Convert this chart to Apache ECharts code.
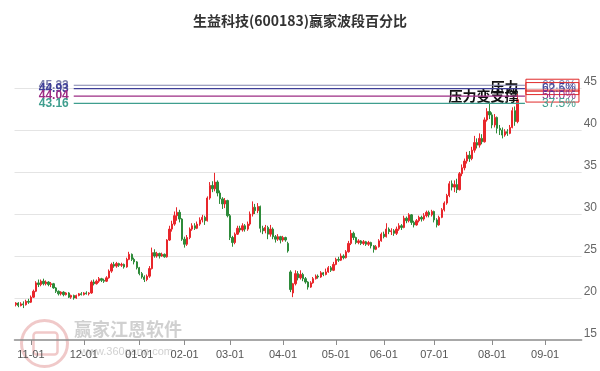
<!DOCTYPE html>
<html>
<head>
<meta charset="utf-8">
<script src="https://cdn.jsdelivr.net/npm/echarts@6/dist/echarts.min.js"></script>
<style>
html,body{margin:0;padding:0;background:#fff;}
#chart{width:600px;height:371px;}
</style>
</head>
<body>
<div id="chart"></div>
<script>
// ---- data ----
const tradeDays = {
  '2024-10': [24,25,28,29,30,31],
  '2024-11': [1,4,5,6,7,8,11,12,13,14,15,18,19,20,21,22,25,26,27,28,29],
  '2024-12': [2,3,4,5,6,9,10,11,12,13,16,17,18,19,20,23,24,25,26,27,30,31],
  '2025-01': [2,3,6,7,8,9,10,13,14,15,16,17,20,21,22,23,24,27],
  '2025-02': [5,6,7,10,11,12,13,14,17,18,19,20,21,24,25,26,27,28],
  '2025-03': [3,4,5,6,7,10,11,12,13,14,17,18,19,20,21,24,25,26,27,28,31],
  '2025-04': [1,2,3,7,8,9,10,11,14,15,16,17,18,21,22,23,24,25,28,29,30],
  '2025-05': [6,7,8,9,12,13,14,15,16,19,20,21,22,23,26,27,28,29,30],
  '2025-06': [3,4,5,6,9,10,11,12,13,16,17,18,19,20,23,24,25,26,27,30],
  '2025-07': [1,2,3,4,7,8,9,10,11,14,15,16,17,18,21,22,23,24,25,28,29,30,31],
  '2025-08': [1,4,5,6,7,8,11,12,13,14,15,18,19,20,21,22,25,26,27,28,29],
  '2025-09': [1,2,3,4,5,8,9,10,11,12,15,16,17,18,19]
};
const monthStarts = ['2024-11-01','2024-12-02','2025-01-02','2025-02-05','2025-03-03','2025-04-01','2025-05-06','2025-06-03','2025-07-01','2025-08-01','2025-09-01'];
const tickLabels  = ['11-01','12-01','01-01','02-01','03-01','04-01','05-01','06-01','07-01','08-01','09-01'];

// [open, close, low, high] per trading day from 2024-10-24
const ohlc = [
[19.2,19.4,19.0,19.5],[19.4,19.1,18.9,19.5],[19.1,19.3,19.0,19.5],[19.3,19.2,18.8,19.6],[19.2,19.6,19.1,19.8],[19.6,19.5,19.3,19.9],
[19.5,20.1,19.4,20.3],[20.1,20.8,20.0,21.0],[20.8,21.8,20.7,22.0],[21.8,21.6,21.3,22.2],[21.6,22.0,21.4,22.2],[22.0,21.7,21.5,22.3],
[21.7,21.9,21.5,22.1],[21.9,21.6,21.4,22.0],[21.6,21.7,21.3,21.9],[21.7,21.2,21.1,21.8],[21.2,20.8,20.6,21.3],[20.8,20.5,20.3,20.9],
[20.5,20.7,20.3,20.8],[20.7,20.4,20.2,20.8],[20.4,20.6,20.3,20.7],[20.6,20.1,20.0,20.7],[20.1,20.3,19.9,20.4],[20.3,20.0,19.8,20.4],
[20.0,20.3,19.9,20.4],[20.3,20.5,20.2,20.6],[20.5,20.4,20.3,20.7],
[20.4,20.6,20.3,20.7],[20.6,20.5,20.4,20.8],[20.5,20.6,20.3,20.7],[20.6,21.9,20.5,22.1],[21.9,21.7,21.5,22.2],[21.7,22.0,21.6,22.2],
[22.0,22.3,21.8,22.5],[22.3,22.1,21.9,22.4],[22.1,22.0,21.8,22.3],[22.0,22.4,21.9,22.6],[22.4,23.2,22.3,23.4],[23.2,24.0,23.0,24.2],
[24.0,23.8,23.6,24.3],[23.8,24.1,23.6,24.3],[24.1,23.9,23.7,24.2],[23.9,24.0,23.7,24.2],[24.0,23.7,23.5,24.1],[23.7,24.6,23.6,24.8],
[24.6,25.2,24.5,25.5],[25.2,24.6,24.4,25.3],[24.6,24.3,24.0,24.8],[24.3,23.6,23.4,24.4],
[23.6,22.9,22.7,23.7],[22.9,22.5,22.3,23.1],[22.5,22.2,21.9,22.7],[22.2,22.6,22.0,22.8],[22.6,23.5,22.4,23.8],[23.5,25.4,23.4,26.0],
[25.4,25.0,24.8,25.8],[25.0,25.3,24.8,25.5],[25.3,25.0,24.7,25.4],[25.0,25.2,24.9,25.4],[25.2,24.9,24.8,25.3],[24.9,26.9,24.8,27.0],
[26.9,28.2,26.8,28.6],[28.2,28.8,27.9,29.2],[28.8,29.8,28.6,30.3],[29.8,30.2,29.2,30.8],[30.2,29.4,29.0,30.5],[29.4,27.0,26.8,29.5],
[27.0,26.4,26.0,27.3],[26.4,27.2,26.2,27.5],[27.2,28.2,27.0,28.4],[28.2,28.6,28.0,28.9],[28.6,28.3,28.1,28.9],[28.3,28.8,28.2,29.1],
[28.8,29.3,28.6,29.6],[29.3,29.6,29.0,29.9],[29.6,29.2,28.7,29.8],[29.2,31.9,29.1,32.1],[31.9,33.4,31.7,33.8],[33.4,33.0,32.6,33.9],
[33.0,33.8,32.7,34.9],[33.8,32.5,32.1,34.0],[32.5,31.8,31.2,32.8],[31.8,31.2,30.6,32.0],[31.2,31.6,30.7,31.9],[31.6,29.8,29.6,31.7],
[29.8,27.2,26.9,30.0],[27.2,26.6,26.1,27.4],[26.6,27.6,26.4,27.8],[27.6,28.3,27.5,28.6],[28.3,28.1,27.8,28.6],[28.1,28.6,27.9,28.9],
[28.6,28.2,27.9,28.8],[28.2,28.8,28.0,29.1],[28.8,30.0,28.6,30.3],[30.0,30.8,29.7,31.5],[30.8,30.4,30.0,31.2],[30.4,30.9,30.1,31.3],
[30.9,28.3,27.8,31.0],[28.3,28.0,27.6,28.6],[28.0,28.4,27.7,28.7],[28.4,27.6,27.0,28.6],[27.6,28.2,27.3,28.7],[28.2,27.3,27.0,28.4],
[27.3,27.0,26.6,27.5],[27.0,27.3,26.8,27.6],[27.3,26.9,26.5,27.4],
[26.9,27.2,26.7,27.4],[27.2,26.9,26.7,27.3],[26.5,25.6,25.4,26.7],[23.1,21.0,20.7,23.3],[20.6,21.7,20.1,21.8],[21.7,22.9,21.5,23.3],
[22.9,22.4,22.1,23.2],[22.4,22.8,22.2,23.3],[22.8,22.3,22.0,23.0],[22.3,21.9,21.7,22.5],[21.9,21.3,21.0,22.0],[21.3,21.8,21.2,22.0],
[21.8,22.3,21.7,22.5],[22.3,22.6,22.2,22.8],[22.6,22.5,22.3,22.8],[22.5,23.0,22.4,23.2],[23.0,22.8,22.6,23.1],[22.8,23.1,22.7,23.5],
[23.1,23.6,23.0,23.8],[23.6,23.3,23.1,23.8],[23.3,24.0,23.2,24.3],
[24.0,24.6,23.9,24.8],[24.6,24.5,24.3,24.9],[24.5,25.0,24.4,25.3],[25.0,24.8,24.6,25.2],[24.8,25.5,24.7,25.7],[25.5,26.5,25.4,26.8],
[26.5,27.7,26.3,28.1],[27.7,27.2,26.9,27.9],[27.2,26.6,26.4,27.3],[26.6,26.8,26.4,27.0],[26.8,26.5,26.3,26.9],[26.5,26.7,26.3,26.9],
[26.7,26.4,26.2,26.8],[26.4,26.6,26.2,26.8],[26.6,26.2,25.9,26.7],[26.2,25.8,25.4,26.3],[25.8,26.1,25.7,26.3],[26.1,26.8,26.0,27.0],
[26.8,27.6,26.7,27.8],
[27.6,27.3,27.1,27.9],[27.3,28.2,27.2,28.9],[28.2,27.9,27.6,28.4],[27.9,28.0,27.5,28.3],[28.0,27.7,27.4,28.2],[27.7,28.2,27.5,28.5],
[28.2,28.6,28.0,28.9],[28.6,28.4,28.1,28.8],[28.4,29.5,28.3,29.8],[29.5,29.2,28.9,29.7],[29.2,29.9,29.0,30.1],[29.9,29.0,28.7,30.0],
[29.0,28.7,28.4,29.2],[28.7,29.2,28.6,29.4],[29.2,29.6,29.0,29.8],[29.6,29.4,29.1,29.8],[29.4,29.8,29.2,30.1],[29.8,30.2,29.6,30.4],
[30.2,29.9,29.6,30.4],[29.9,30.3,29.7,30.5],
[30.3,29.3,29.0,30.4],[29.3,28.7,28.4,29.5],[28.7,29.6,28.6,29.8],[29.6,30.5,29.5,30.7],[30.5,31.3,30.3,31.5],[31.3,32.2,31.1,32.4],
[32.2,33.6,32.0,33.9],[33.6,33.2,32.8,34.0],[33.2,33.5,32.6,34.0],[33.5,32.9,32.5,34.2],[32.9,34.8,32.8,35.0],[34.8,35.5,34.5,35.9],
[35.5,36.3,35.2,36.6],[36.3,37.0,36.0,37.4],[37.0,36.6,36.2,37.5],[36.6,37.6,36.4,38.0],[37.6,38.5,37.3,39.3],[38.5,38.2,37.8,39.0],
[38.2,39.0,37.9,39.6],[39.0,38.6,38.3,39.5],[38.6,41.2,38.5,41.5],[41.2,42.2,41.0,42.6],[42.2,41.8,41.3,43.3],
[41.8,40.6,40.2,42.1],[40.6,41.5,40.3,41.9],[41.5,40.2,39.6,41.6],[40.2,40.0,39.4,40.6],[40.0,39.4,39.0,40.3],[39.4,39.8,39.2,40.1],
[39.8,39.6,39.3,40.1],[39.6,40.3,39.5,40.6],[40.3,42.3,40.2,42.7],[42.3,41.0,40.5,42.8],[41.0,43.6,40.8,44.3]
];

// wave percentage levels
const levels      = [45.33, 44.93, 44.04, 43.16];
const levelPct    = ['68.2%', '62.5%', '50.0%', '37.5%'];
const levelNotes  = ['', '压力', '压力变支撑', ''];
const levelColors = ['#7f82ad', '#3f3f98', '#9c2c84', '#3f9e8e'];
const levelStart  = '2024-11-26';
const levelEnd    = '2025-08-20';
const yTicks      = [15, 20, 25, 30, 35, 40, 45];

// ---- build ----
const categories = [];
Object.keys(tradeDays).forEach(m => {
  tradeDays[m].forEach(d => categories.push(m + '-' + String(d).padStart(2, '0')));
});

const chart = echarts.init(document.getElementById('chart'), null, {renderer: 'canvas'});
const isMonthStart = (i, v) => monthStarts.indexOf(v !== undefined ? v : categories[i]) >= 0;
const hidden = {color: 'rgba(0,0,0,0)', borderColor: 'rgba(0,0,0,0)'};

const levelSeries = levels.map((v, k) => ({
  type: 'line',
  silent: true,
  symbol: 'circle',
  symbolSize: 1,
  showSymbol: true,
  itemStyle: hidden,
  z: 5,
  lineStyle: {color: levelColors[k], width: 1.2},
  data: [
    {value: [levelStart, v], label: {show: true, position: 'left', distance: 4,
      formatter: v.toFixed(2), color: levelColors[k], fontSize: 12, fontWeight: 'bold',
      fontFamily: 'Liberation Sans, Arial, sans-serif'}},
    {value: [levelEnd, v], label: {show: true, position: 'right', distance: 0,
      formatter: levelPct[k], color: levelColors[k], fontSize: 12,
      fontFamily: 'Liberation Sans, Arial, sans-serif',
      borderColor: k < 3 ? '#e02a2a' : 'transparent', borderWidth: 1, padding: [0, 3, 0, 16]}}
  ],
  markPoint: levelNotes[k] ? {
    symbol: 'circle',
    symbolSize: 1,
    itemStyle: hidden,
    silent: true,
    data: [{coord: [levelEnd, v], label: {show: true, position: 'left', distance: 5,
      formatter: levelNotes[k], color: '#111', fontSize: 14, fontWeight: 'bold',
      fontFamily: 'Noto Sans CJK SC, sans-serif', offset: [0, k === 1 ? -2 : 0]}}]
  } : undefined
}));

chart.setOption({
  animation: false,
  backgroundColor: '#fff',
  title: {
    text: '生益科技(600183)赢家波段百分比',
    left: 'center', top: 9,
    textStyle: {fontSize: 14, fontWeight: 'bold', color: '#333', fontFamily: 'Noto Sans CJK SC, sans-serif'}
  },
  grid: {left: 14.5, right: 15.4, top: 62.8, bottom: 31},
  xAxis: {
    type: 'category',
    data: categories,
    boundaryGap: true,
    axisLine: {show: true, lineStyle: {color: '#8c8c8c', width: 1.5}},
    axisTick: {show: true, alignWithLabel: true, interval: isMonthStart, length: 5, lineStyle: {color: '#8c8c8c'}},
    axisLabel: {
      interval: isMonthStart,
      formatter: v => tickLabels[monthStarts.indexOf(v)],
      color: '#555', fontSize: 11, margin: 9,
      fontFamily: 'Liberation Sans, Arial, sans-serif'
    },
    splitLine: {show: false}
  },
  yAxis: {
    type: 'value',
    position: 'right',
    min: 15, max: 48, interval: 5,
    axisLine: {show: false},
    axisTick: {show: false},
    axisLabel: {
      showMaxLabel: false,
      formatter: v => yTicks.indexOf(v) >= 0 ? String(v) : '',
      color: '#666', fontSize: 12, margin: 2, verticalAlign: 'bottom',
      fontFamily: 'Liberation Sans, Arial, sans-serif'
    },
    splitLine: {show: true, showMinLine: false, showMaxLine: false, lineStyle: {color: '#e4e4e4', width: 1}}
  },
  series: [
    {
      type: 'candlestick',
      data: ohlc,
      barWidth: '72%',
      z: 3,
      itemStyle: {color: '#e8262b', color0: '#2e8b3a', borderColor: '#e8262b', borderColor0: '#2e8b3a', borderWidth: 1}
    }
  ].concat(levelSeries),
  graphic: [
    {type: 'circle', left: 19, top: 318, shape: {r: 23}, style: {fill: 'none', stroke: 'rgba(200,60,60,0.28)', lineWidth: 3}, silent: true, z: 0},
    {type: 'rect', left: 31, top: 330, shape: {width: 24, height: 22, r: 3}, style: {fill: 'none', stroke: 'rgba(200,60,60,0.28)', lineWidth: 2.5}, silent: true, z: 0},
    {type: 'text', left: 74, top: 320, style: {text: '赢家江恩软件', fill: 'rgba(150,150,150,0.45)', font: 'bold 18px "Noto Sans CJK SC"'}, silent: true, z: 0},
    {type: 'text', left: 80, top: 346, style: {text: 'www.360gann.com', fill: 'rgba(150,150,150,0.45)', font: '11px "Liberation Sans"'}, silent: true, z: 0}
  ]
});
</script>
</body>
</html>
